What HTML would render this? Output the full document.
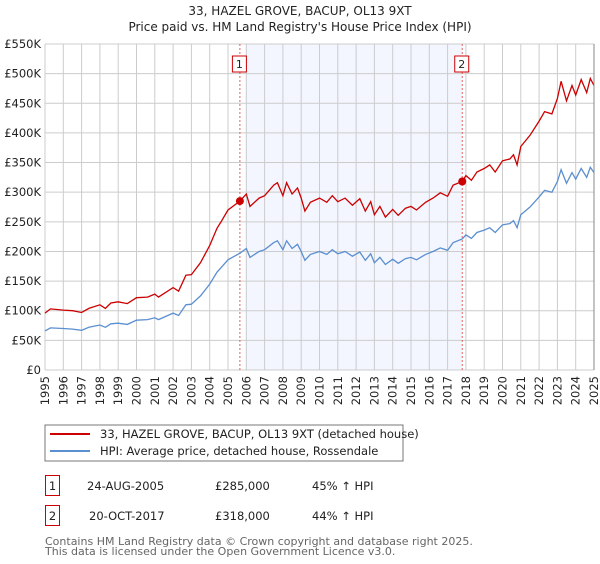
<!DOCTYPE html>
<html><head><meta charset="utf-8"><style>
body{margin:0;background:#fff;font-family:"DejaVu Sans","Liberation Sans",sans-serif;}
svg text{font-family:"DejaVu Sans","Liberation Sans",sans-serif;}
</style></head><body>
<svg id="chart" width="600" height="560" viewBox="0 0 600 560" xmlns="http://www.w3.org/2000/svg">
<text x="300" y="15" text-anchor="middle" font-size="12" fill="#222">33, HAZEL GROVE, BACUP, OL13 9XT</text>
<text x="300" y="31" text-anchor="middle" font-size="12" fill="#222">Price paid vs. HM Land Registry's House Price Index (HPI)</text>
<g id="plot"></g>
<rect x="45" y="425" width="358" height="36" fill="#fff" stroke="#777"/>
<line x1="50" y1="434" x2="90" y2="434" stroke="#cc0000" stroke-width="2"/>
<text x="100" y="438" font-size="11.5" fill="#222">33, HAZEL GROVE, BACUP, OL13 9XT (detached house)</text>
<line x1="50" y1="451" x2="90" y2="451" stroke="#5b8fd0" stroke-width="2"/>
<text x="100" y="455" font-size="11.5" fill="#222">HPI: Average price, detached house, Rossendale</text>
<rect x="45.5" y="475.5" width="14" height="20" fill="#fff" stroke="#cc0000"/>
<text x="52.5" y="490" text-anchor="middle" font-size="11.5" fill="#222">1</text>
<text x="87" y="490" font-size="11.5" fill="#222">24-AUG-2005</text>
<text x="215" y="490" font-size="11.5" fill="#222">£285,000</text>
<text x="312" y="490" font-size="11.5" fill="#222">45% ↑ HPI</text>
<rect x="45.5" y="505.5" width="14" height="20" fill="#fff" stroke="#cc0000"/>
<text x="52.5" y="520" text-anchor="middle" font-size="11.5" fill="#222">2</text>
<text x="89" y="520" font-size="11.5" fill="#222">20-OCT-2017</text>
<text x="215" y="520" font-size="11.5" fill="#222">£318,000</text>
<text x="312" y="520" font-size="11.5" fill="#222">44% ↑ HPI</text>
<text x="45" y="545" font-size="11" fill="#666">Contains HM Land Registry data © Crown copyright and database right 2025.</text>
<text x="45" y="555" font-size="11" fill="#666">This data is licensed under the Open Government Licence v3.0.</text>
</svg>
<script>
const yearTicks=[1995,1996,1997,1998,1999,2000,2001,2002,2003,2004,2005,2006,2007,2008,2009,2010,2011,2012,2013,2014,2015,2016,2017,2018,2019,2020,2021,2022,2023,2024,2025];
const valueTicks=[0,50,100,150,200,250,300,350,400,450,500,550];
const valueLabels=["£0","£50K","£100K","£150K","£200K","£250K","£300K","£350K","£400K","£450K","£500K","£550K"];
const hpiDates=[1995.0,1995.3,1996.0,1996.5,1997.0,1997.4,1998.0,1998.3,1998.6,1999.0,1999.5,2000.0,2000.6,2001.0,2001.2,2002.0,2002.3,2002.7,2003.0,2003.5,2004.0,2004.4,2004.6,2005.0,2005.65,2006.0,2006.2,2006.7,2007.0,2007.5,2007.7,2008.0,2008.2,2008.5,2008.8,2009.0,2009.2,2009.5,2010.0,2010.4,2010.7,2011.0,2011.4,2011.8,2012.2,2012.5,2012.8,2013.0,2013.3,2013.6,2014.0,2014.3,2014.7,2015.0,2015.3,2015.8,2016.2,2016.6,2017.0,2017.3,2017.8,2018.0,2018.3,2018.6,2019.0,2019.3,2019.6,2020.0,2020.4,2020.6,2020.8,2021.0,2021.5,2022.0,2022.3,2022.7,2023.0,2023.2,2023.5,2023.8,2024.0,2024.3,2024.6,2024.8,2025.0];
const hpiValues=[66,71,70,69,67,72,76,72,78,79,77,84,85,88,85,96,92,110,111,125,145,165,172,186,197,205,190,200,203,215,218,203,218,205,212,200,185,195,200,195,203,196,200,192,199,185,196,181,190,178,187,180,188,190,186,195,200,206,202,215,221,228,222,232,236,240,232,245,247,252,240,262,275,292,303,300,318,338,315,333,322,340,325,342,333];
const propValues=[96,103,101,100,97,104,110,104,113,115,112,122,123,128,123,139,133,160,161,181,210,239,249,270,285,297,276,290,294,312,316,294,316,297,307,290,268,283,290,283,294,284,290,278,289,268,284,262,276,258,271,261,273,276,270,283,290,299,293,312,318,328,320,334,340,346,334,353,356,363,346,377,396,420,436,432,458,487,454,480,464,490,468,492,480];
const saleDates=[2005.65,2017.8];
const saleValues=[285,318];
const saleLabels=["1","2"];
const shadeRange=[2006.0,2017.8];

const X0=45,X1=594,Y0=370,Y1=44;
const xs=y=>X0+(y-1995)/(2025-1995)*(X1-X0);
const ys=v=>Y0-v/550*(Y0-Y1);
const NS="http://www.w3.org/2000/svg";
const g=document.getElementById('plot');
function mk(t,a){const e=document.createElementNS(NS,t);for(const k in a)e.setAttribute(k,a[k]);g.appendChild(e);return e;}
let e=mk('rect',{x:xs(shadeRange[0]),y:Y1,width:xs(shadeRange[1])-xs(shadeRange[0]),height:Y0-Y1,fill:'#f3f6fe'});


yearTicks.forEach(yr=>{
 const l=mk('line',{x1:xs(yr),x2:xs(yr),y1:Y1,y2:Y0,stroke:'#ccc','stroke-width':1});
 
 
 const t=mk('text',{x:0,y:0,'font-size':11.5,fill:'#222','text-anchor':'end',transform:`translate(${xs(yr)+4},${Y0+6}) rotate(-90)`});
 t.textContent=yr;
 
 
});
valueTicks.forEach((v,i)=>{
 const l=mk('line',{x1:X0,x2:X1,y1:ys(v),y2:ys(v),stroke:'#ccc','stroke-width':1});
 
 
 const t=mk('text',{x:X0-4,y:ys(v)+4,'font-size':11.5,fill:'#222','text-anchor':'end'});
 t.textContent=valueLabels[i];
 
 
});
saleDates.forEach((d,i)=>{
 const l=mk('line',{x1:xs(d),x2:xs(d),y1:Y1,y2:Y0,stroke:'#e06060','stroke-width':1,'stroke-dasharray':'2,2'});
 
 
 const r=mk('rect',{x:xs(d)-7.5,y:56,width:14,height:16,fill:'#fff',stroke:'#cc0000'});
 
 
 const t=mk('text',{x:xs(d)-0.5,y:68,'font-size':11,fill:'#222','text-anchor':'middle'});
 t.textContent=saleLabels[i];
 
 
});
const pts=(vals)=>hpiDates.map((d,i)=>xs(d).toFixed(1)+','+ys(vals[i]).toFixed(1)).join(' ');
e=mk('polyline',{points:pts(hpiValues),fill:'none',stroke:'#5b8fd0','stroke-width':1.3});


e=mk('polyline',{points:pts(propValues),fill:'none',stroke:'#cc0000','stroke-width':1.3});


saleDates.forEach((d,i)=>{
 const c=mk('circle',{cx:xs(d),cy:ys(saleValues[i]),r:4,fill:'#cc0000'});
 
 
});
e=mk('line',{x1:X1,x2:X1,y1:Y1,y2:Y0,stroke:'#888','stroke-width':1});


</script>
</body></html>
